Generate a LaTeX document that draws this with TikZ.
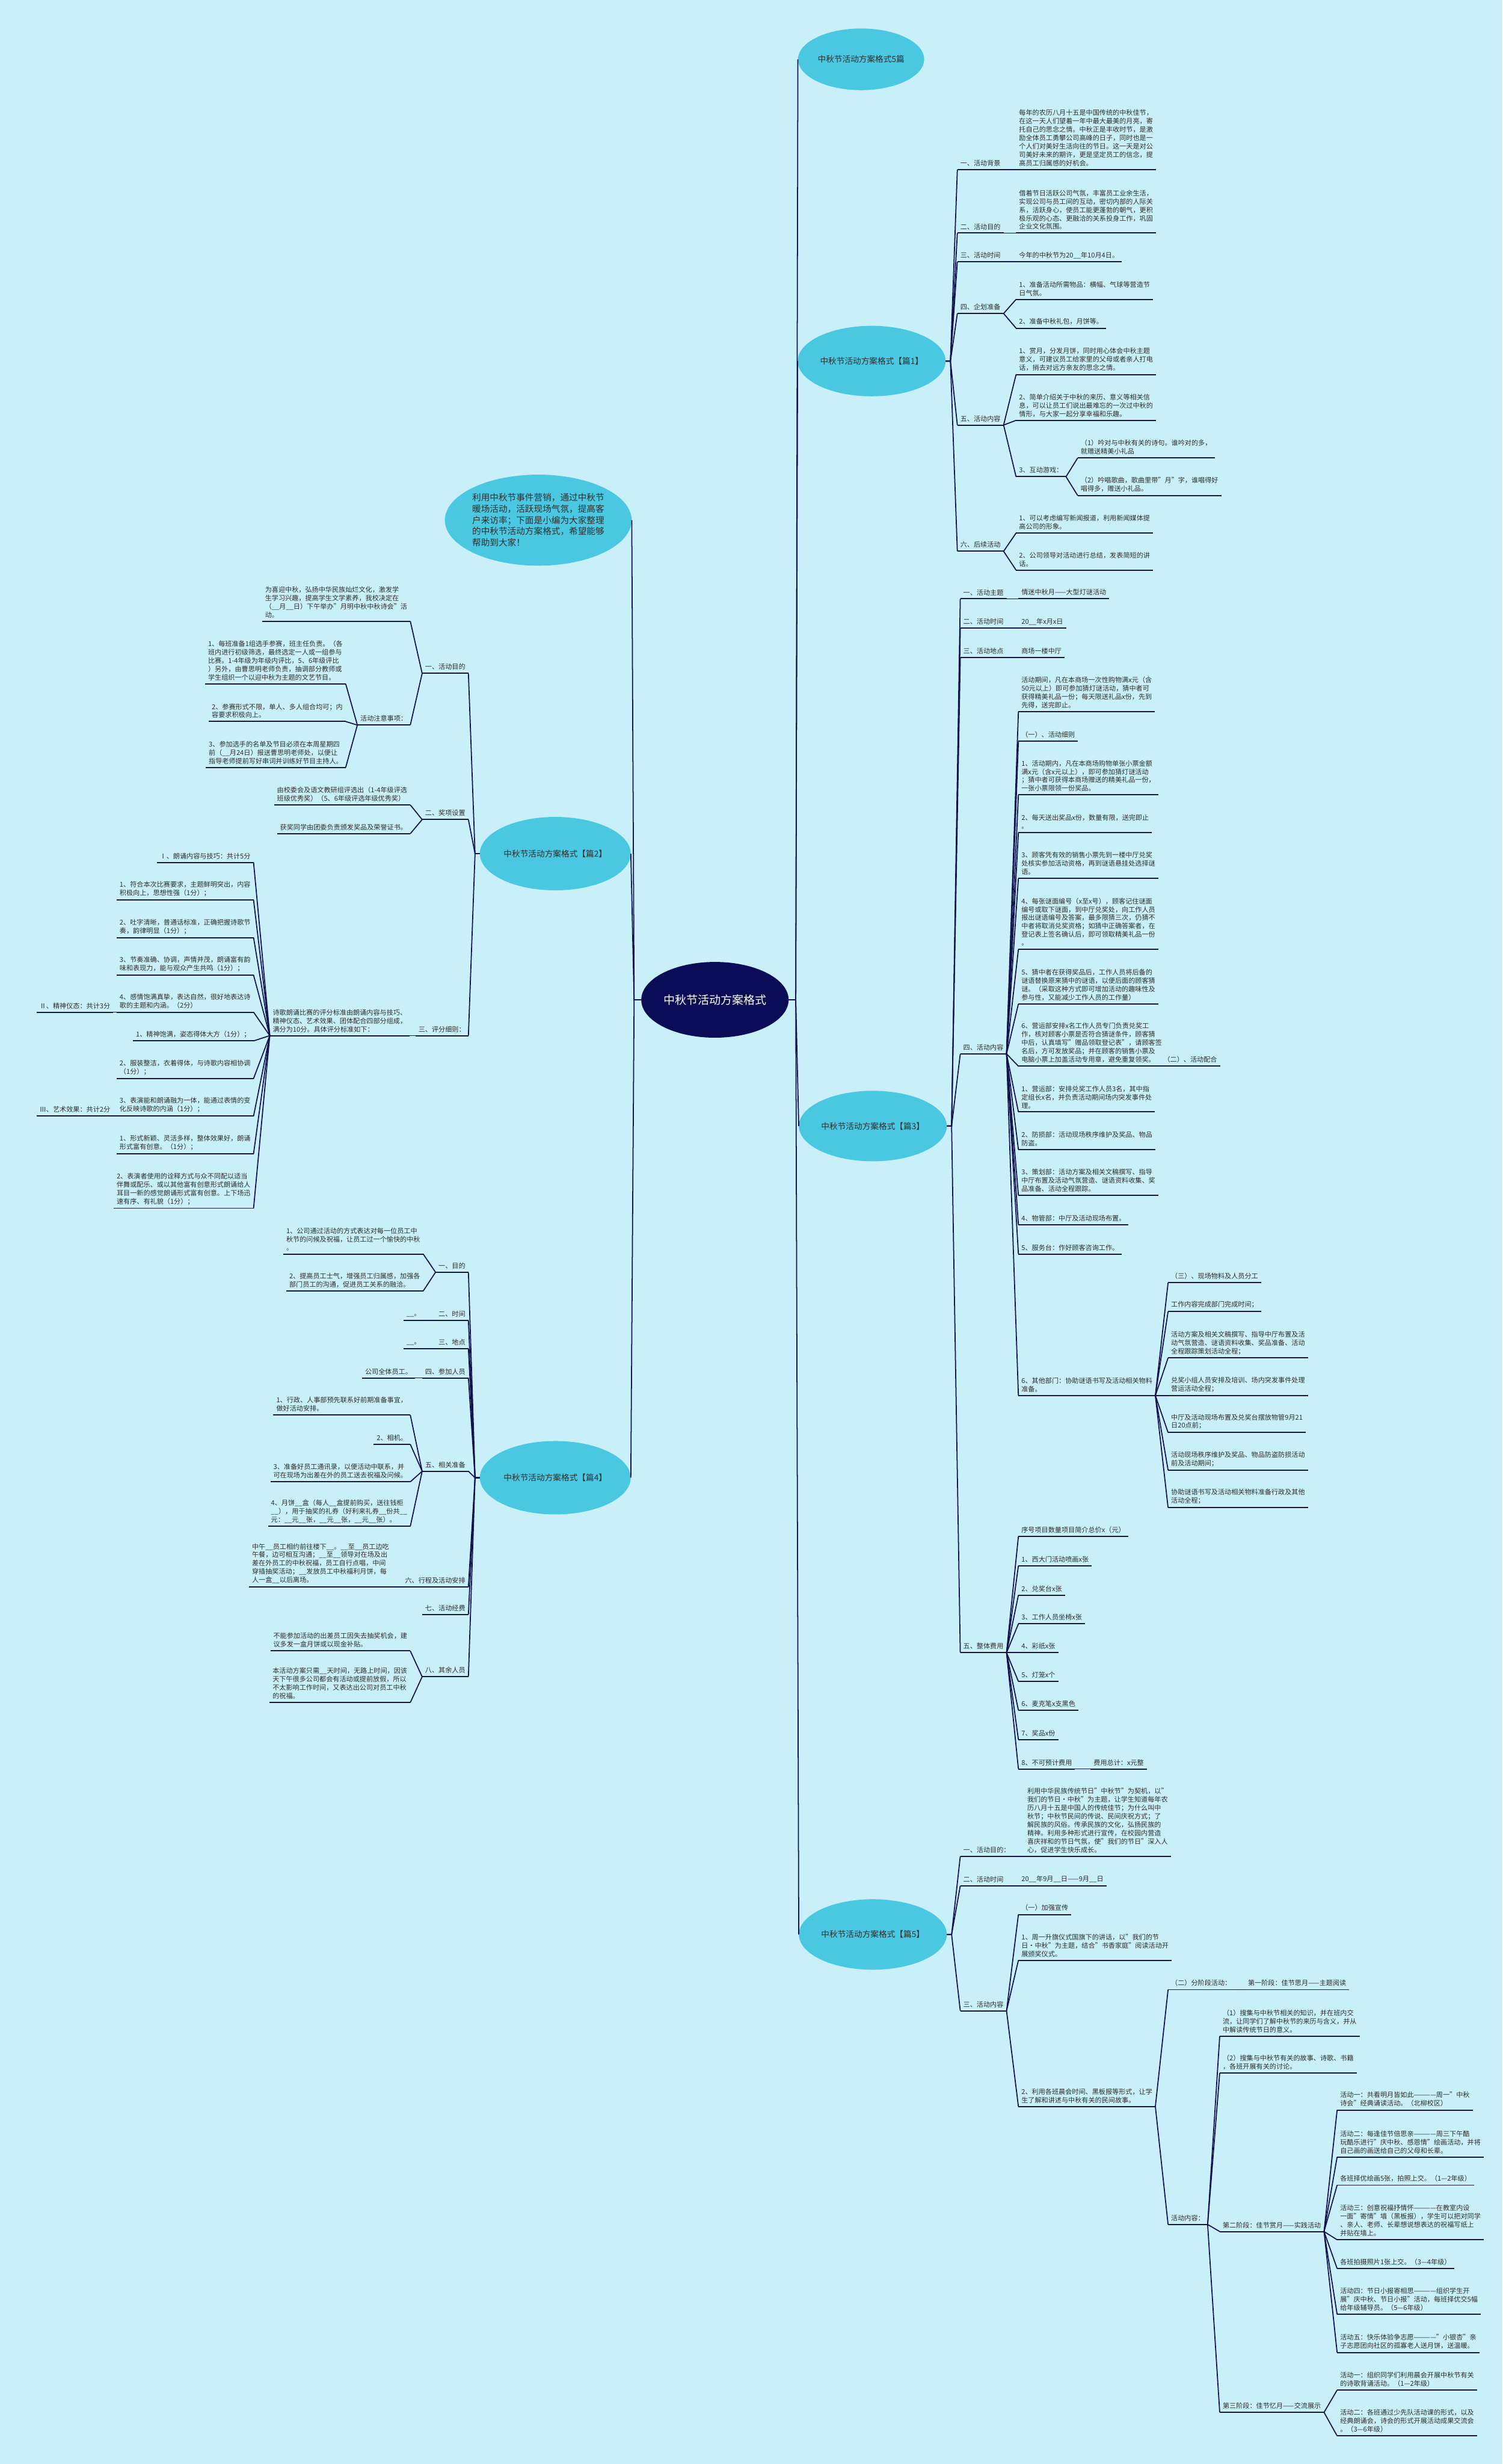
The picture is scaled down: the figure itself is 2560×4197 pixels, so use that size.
\documentclass[tikz,border=0pt]{standalone}
\usepackage{fontspec}
\setmainfont{Noto Sans CJK SC}
\usepackage{tikz}
\usetikzlibrary{shapes.geometric}
\definecolor{bgcol}{RGB}{201,240,248}
\definecolor{piancol}{RGB}{74,200,226}
\definecolor{rootcol}{RGB}{10,12,88}
\definecolor{linkcol}{RGB}{18,18,78}
\definecolor{ulcol}{RGB}{25,25,40}
\definecolor{txtcol}{RGB}{45,45,45}
\newcommand\leaffont{\fontsize{11.4}{14.3}\selectfont}

\begin{document}
\begin{tikzpicture}[x=1pt, y=-1pt,
    link/.style={draw=linkcol, line width=1.8},
    uline/.style={draw=ulcol, line width=2},
    leaf/.style={anchor=south west, align=left, inner xsep=5, inner ysep=5.5, font=\leaffont, text=txtcol,
      append after command={(\tikzlastnode.south west) edge[uline] (\tikzlastnode.south east)}},
    lleaf/.style={leaf, anchor=south east},
    pian/.style={ellipse, fill=piancol, minimum width=252, minimum height=120, inner sep=0,
      font=\fontsize{14}{18}\selectfont, text=txtcol},
    root/.style={ellipse, fill=rootcol, minimum width=251, minimum height=129, inner sep=0,
      font=\fontsize{19.5}{24}\selectfont, text=white}]

    \fill[bgcol] (0,0) rectangle (2560,4197);
    \useasboundingbox (0,0) rectangle (2560,4197);

    % Nodes
    \node[root] (root) at (1218,1703) {中秋节活动方案格式};
    \node[pian, minimum width=215, minimum height=105] (p5) at (1467,101) {中秋节活动方案格式5篇};
    \node[pian] (p1) at (1485,615) {中秋节活动方案格式【篇1】};
    \node[pian] (p3) at (1487,1918) {中秋节活动方案格式【篇3】};
    \node[pian] (p5b) at (1487,3295) {中秋节活动方案格式【篇5】};
    \node[pian, minimum width=316, minimum height=155, align=left, font=\fontsize{15}{19.2}\selectfont] (intro) at (917,886)
      {利用中秋节事件营销，通过中秋节\\暖场活动，活跃现场气氛，提高客\\户来访率；下面是小编为大家整理\\的中秋节活动方案格式，希望能够\\帮助到大家！};
    \node[pian, minimum width=257, minimum height=125] (p2) at (946,1454) {中秋节活动方案格式【篇2】};
    \node[pian, minimum width=257, minimum height=125] (p4) at (946,2517) {中秋节活动方案格式【篇4】};

    % pian 1
    \node[leaf] (a1) at (1631,289) {一、活动背景};
    \node[leaf] (a1t) at (1731,289) {每年的农历八月十五是中国传统的中秋佳节，\\在这一天人们望着一年中最大最美的月亮，寄\\托自己的思念之情。中秋正是丰收时节，是激\\励全体员工勇攀公司高峰的日子，同时也是一\\个人们对美好生活向往的节日。这一天是对公\\司美好未来的期许，更是坚定员工的信念，提\\高员工归属感的好机会。};
    \node[leaf] (a2) at (1631,397) {二、活动目的};
    \node[leaf] (a2t) at (1731,397) {借着节日活跃公司气氛，丰富员工业余生活，\\实现公司与员工间的互动，密切内部的人际关\\系，活跃身心，使员工能更蓬勃的朝气，更积\\极乐观的心态、更融洽的关系投身工作，巩固\\企业文化氛围。};
    \node[leaf] (a3) at (1631,446) {三、活动时间};
    \node[leaf] (a3t) at (1731,446) {今年的中秋节为20\_\_年10月4日。};
    \node[leaf] (a4) at (1631,534) {四、企划准备};
    \node[leaf] (a4a) at (1731,510) {1、准备活动所需物品：横幅、气球等营造节\\日气氛。};
    \node[leaf] (a4b) at (1731,559) {2、准备中秋礼包，月饼等。};
    \node[leaf] (a5) at (1631,724) {五、活动内容};
    \node[leaf] (a5a) at (1731,638) {1、赏月，分发月饼，同时用心体会中秋主题\\意义，可建议员工给家里的父母或者亲人打电\\话，捎去对远方亲友的思念之情。};
    \node[leaf] (a5b) at (1731,716) {2、简单介绍关于中秋的来历、意义等相关信\\息，可以让员工们说出最难忘的一次过中秋的\\情形，与大家一起分享幸福和乐趣。};
    \node[leaf] (a5c) at (1731,812) {3、互动游戏：};
    \node[leaf] (a5c1) at (1836,780) {（1）吟对与中秋有关的诗句。谁吟对的多，\\就赠送精美小礼品};
    \node[leaf] (a5c2) at (1836,844) {（2）吟唱歌曲，歌曲里带"月"字，谁唱得好\\唱得多，赠送小礼品。};
    \node[leaf] (a6) at (1631,939) {六、后续活动};
    \node[leaf] (a6a) at (1731,908) {1、可以考虑编写新闻报道，利用新闻媒体提\\高公司的形象。};
    \node[leaf] (a6b) at (1731,971) {2、公司领导对活动进行总结，发表简短的讲\\话。};

    % pian 3
    \node[leaf] (b1) at (1636,1020) {一、活动主题};
    \node[leaf] (b1t) at (1735,1020) {情迷中秋月——大型灯谜活动};
    \node[leaf] (b2) at (1636,1070) {二、活动时间};
    \node[leaf] (b2t) at (1735,1070) {20\_\_年x月x日};
    \node[leaf] (b3) at (1636,1120) {三、活动地点};
    \node[leaf] (b3t) at (1735,1120) {商场一楼中厅};
    \node[leaf] (b4) at (1636,1795) {四、活动内容};
    \node[leaf] (b4a) at (1735,1212) {活动期间，凡在本商场一次性购物满x元（含\\50元以上）即可参加猜灯谜活动，猜中者可\\获得精美礼品一份；每天限送礼品x份，先到\\先得，送完即止。};
    \node[leaf] (b4b) at (1735,1262) {（一）、活动细则};
    \node[leaf] (b4c) at (1735,1354) {1、活动期内，凡在本商场购物单张小票金额\\满x元（含x元以上），即可参加猜灯谜活动\\；猜中者可获得本商场赠送的精美礼品一份，\\一张小票限领一份奖品。};
    \node[leaf] (b4d) at (1735,1418) {2、每天送出奖品x份，数量有限，送完即止\\。};
    \node[leaf] (b4e) at (1735,1496) {3、顾客凭有效的销售小票先到一楼中厅兑奖\\处核实参加活动资格，再到谜语悬挂处选择谜\\语。};
    \node[leaf] (b4f) at (1735,1617) {4、每张谜面编号（x至x号），顾客记住谜面\\编号或取下谜面，到中厅兑奖处，向工作人员\\报出谜语编号及答案，最多限猜三次，仍猜不\\中者将取消兑奖资格；如猜中正确答案者，在\\登记表上签名确认后，即可领取精美礼品一份\\。};
    \node[leaf] (b4g) at (1735,1710) {5、猜中者在获得奖品后，工作人员将后备的\\谜语替换原来猜中的谜语，以便后面的顾客猜\\谜。（采取这种方式即可增加活动的趣味性及\\参与性，又能减少工作人员的工作量）};
    \node[leaf] (b4h) at (1735,1816) {6、营运部安排x名工作人员专门负责兑奖工\\作，核对顾客小票是否符合猜谜条件，顾客猜\\中后，认真填写"赠品领取登记表"，请顾客签\\名后，方可发放奖品；并在顾客的销售小票及\\电脑小票上加盖活动专用章，避免重复领奖。};
    \node[leaf] (b4h1) at (1977,1816) {（二）、活动配合};
    \node[leaf] (b4i) at (1735,1894) {1、营运部：安排兑奖工作人员3名，其中指\\定组长x名，并负责活动期间场内突发事件处\\理。};
    \node[leaf] (b4j) at (1735,1958) {2、防损部：活动现场秩序维护及奖品、物品\\防盗。};
    \node[leaf] (b4k) at (1735,2036) {3、策划部：活动方案及相关文稿撰写、指导\\中厅布置及活动气氛营造、谜语资料收集、奖\\品准备、活动全程跟踪。};
    \node[leaf] (b4l) at (1735,2086) {4、物管部：中厅及活动现场布置。};
    \node[leaf] (b4m) at (1735,2136) {5、服务台：作好顾客咨询工作。};
    \node[leaf] (b4n) at (1735,2377) {6、其他部门：协助谜语书写及活动相关物料\\准备。};
    \node[leaf] (b4n1) at (1990,2185) {（三）、现场物料及人员分工};
    \node[leaf] (b4n2) at (1990,2234) {工作内容完成部门完成时间；};
    \node[leaf] (b4n3) at (1990,2313) {活动方案及相关文稿撰写、指导中厅布置及活\\动气氛营造、谜语资料收集、奖品准备、活动\\全程跟踪策划活动全程；};
    \node[leaf] (b4n4) at (1990,2377) {兑奖小组人员安排及培训、场内突发事件处理\\营运活动全程；};
    \node[leaf] (b4n5) at (1990,2440) {中厅及活动现场布置及兑奖台摆放物管9月21\\日20点前；};
    \node[leaf] (b4n6) at (1990,2504) {活动现场秩序维护及奖品、物品防盗防损活动\\前及活动期间；};
    \node[leaf] (b4n7) at (1990,2568) {协助谜语书写及活动相关物料准备行政及其他\\活动全程；};
    \node[leaf] (b5) at (1636,2815) {五、整体费用};
    \node[leaf] (b5a) at (1735,2617) {序号项目数量项目简介总价x（元）};
    \node[leaf] (b5b) at (1735,2667) {1、西大门活动喷画x张};
    \node[leaf] (b5c) at (1735,2717) {2、兑奖台x张};
    \node[leaf] (b5d) at (1735,2766) {3、工作人员坐椅x张};
    \node[leaf] (b5e) at (1735,2815) {4、彩纸x张};
    \node[leaf] (b5f) at (1735,2864) {5、灯笼x个};
    \node[leaf] (b5g) at (1735,2913) {6、麦克笔x支黑色};
    \node[leaf] (b5h) at (1735,2963) {7、奖品x份};
    \node[leaf] (b5i) at (1735,3013) {8、不可预计费用};
    \node[leaf] (b5i1) at (1858,3013) {费用总计：x元整};

    % pian 5
    \node[leaf] (c1) at (1636,3162) {一、活动目的：};
    \node[leaf] (c1t) at (1745,3162) {利用中华民族传统节日"中秋节"为契机，以"\\我们的节日·中秋"为主题，让学生知道每年农\\历八月十五是中国人的传统佳节；为什么叫中\\秋节；中秋节民间的传说、民间庆祝方式；了\\解民族的风俗。传承民族的文化，弘扬民族的\\精神。利用多种形式进行宣传，在校园内营造\\喜庆祥和的节日气氛，使"我们的节日"深入人\\心，促进学生快乐成长。};
    \node[leaf] (c2) at (1636,3212) {二、活动时间};
    \node[leaf] (c2t) at (1735,3212) {20\_\_年9月\_\_日——9月\_\_日};
    \node[leaf] (c3) at (1636,3425) {三、活动内容};
    \node[leaf] (c3a) at (1735,3261) {（一）加强宣传};
    \node[leaf] (c3b) at (1735,3339) {1、周一升旗仪式国旗下的讲话，以"我们的节\\日·中秋"为主题，结合"书香家庭"阅读活动开\\展颁奖仪式。};
    \node[leaf] (c3c) at (1735,3588) {2、利用各班晨会时间、黑板报等形式，让学\\生了解和讲述与中秋有关的民间故事。};
    \node[leaf] (c3c1) at (1990,3389) {（二）分阶段活动：};
    \node[leaf] (c3c1a) at (2121,3389) {第一阶段：佳节思月——主题阅读};
    \node[leaf] (c3c2) at (1990,3789) {活动内容：};
    \node[leaf] (d1) at (2078,3468) {（1）搜集与中秋节相关的知识，并在班内交\\流，让同学们了解中秋节的来历与含义，并从\\中解读传统节日的意义。};
    \node[leaf] (d2) at (2078,3531) {（2）搜集与中秋节有关的故事、诗歌、书籍\\，各班开展有关的讨论。};
    \node[leaf] (d3) at (2078,3801) {第二阶段：佳节赏月——实践活动};
    \node[leaf] (d4) at (2078,4109) {第三阶段：佳节忆月——交流展示};
    \node[leaf] (e1) at (2278,3594) {活动一：共看明月皆如此————周一"中秋\\诗会"经典诵读活动。（北柳校区）};
    \node[leaf] (e2) at (2278,3674) {活动二：每逢佳节倍思亲————周三下午酷\\玩酷乐进行"庆中秋、感恩情"绘画活动，并将\\自己画的画送给自己的父母和长辈。};
    \node[leaf] (e3) at (2278,3722) {各班择优绘画5张，拍照上交。（1—2年级）};
    \node[leaf] (e4) at (2278,3815) {活动三：创意祝福抒情怀————在教室内设\\一面"寄情"墙（黑板报），学生可以把对同学\\、亲人、老师、长辈想说想表达的祝福写纸上\\并贴在墙上。};
    \node[leaf] (e5) at (2278,3864) {各班拍摄照片1张上交。（3—4年级）};
    \node[leaf] (e6) at (2278,3942) {活动四：节日小报寄相思————组织学生开\\展"庆中秋、节日小报"活动，每班择优交5幅\\给年级辅导员。（5—6年级）};
    \node[leaf] (e7) at (2278,4007) {活动五：快乐体验争志愿————"小银杏"亲\\子志愿团向社区的孤寡老人送月饼，送温暖。};
    \node[leaf] (f1) at (2278,4071) {活动一：组织同学们利用晨会开展中秋节有关\\的诗歌背诵活动。（1—2年级）};
    \node[leaf] (f2) at (2278,4149) {活动二：各班通过少先队活动课的形式，以及\\经典朗诵会，诗会的形式开展活动成果交流会\\。（3—6年级）};

    % pian 2
    \node[lleaf] (g1) at (798,1147) {一、活动目的};
    \node[lleaf] (g1a) at (699,1058) {为喜迎中秋，弘扬中华民族灿烂文化，激发学\\生学习兴趣，提高学生文学素养，我校决定在\\（\_\_月\_\_日）下午举办"月明中秋中秋诗会"活\\动。};
    \node[lleaf] (g1b) at (699,1235) {活动注意事项：};
    \node[lleaf] (g1b1) at (589,1165) {1、每班准备1组选手参赛，班主任负责。（各\\班内进行初级筛选，最终选定一人或一组参与\\比赛。1-4年级为年级内评比，5、6年级评比\\）另外，由曹思明老师负责，抽调部分教师或\\学生组织一个以迎中秋为主题的文艺节目。};
    \node[lleaf] (g1b2) at (589,1229) {2、参赛形式不限，单人、多人组合均可；内\\容要求积极向上。};
    \node[lleaf] (g1b3) at (589,1307) {3、参加选手的名单及节目必须在本周星期四\\前（\_\_月24日）报送曹思明老师处，以便让\\指导老师提前写好串词并训练好节目主持人。};
    \node[lleaf] (g2) at (798,1396) {二、奖项设置};
    \node[lleaf] (g2a) at (699,1371) {由校委会及语文教研组评选出（1-4年级评选\\班级优秀奖）（5、6年级评选年级优秀奖）};
    \node[lleaf] (g2b) at (699,1420) {获奖同学由团委负责颁发奖品及荣誉证书。};
    \node[lleaf] (g3) at (798,1764) {三、评分细则：};
    \node[lleaf] (g3a) at (698,1764) {诗歌朗诵比赛的评分标准由朗诵内容与技巧、\\精神仪态、艺术效果、团体配合四部分组成，\\满分为10分。具体评分标准如下：};
    \node[lleaf] (h1) at (432,1469) {Ⅰ、朗诵内容与技巧：共计5分};
    \node[lleaf] (h2) at (432,1533) {1、符合本次比赛要求，主题鲜明突出，内容\\积极向上，思想性强（1分）；};
    \node[lleaf] (h3) at (432,1597) {2、吐字清晰，普通话标准，正确把握诗歌节\\奏，韵律明显（1分）；};
    \node[lleaf] (h4) at (432,1661) {3、节奏准确、协调，声情并茂，朗诵富有韵\\味和表现力，能与观众产生共鸣（1分）；};
    \node[lleaf] (h5) at (432,1724) {4、感情饱满真挚，表达自然，很好地表达诗\\歌的主题和内涵。（2分）};
    \node[lleaf] (h5a) at (193,1724) {Ⅱ、精神仪态：共计3分};
    \node[lleaf] (h6) at (432,1773) {1、精神饱满，姿态得体大方（1分）；};
    \node[lleaf] (h7) at (432,1837) {2、服装整洁，衣着得体，与诗歌内容相协调\\（1分）；};
    \node[lleaf] (h8) at (432,1901) {3、表演能和朗诵融为一体，能通过表情的变\\化反映诗歌的内涵（1分）；};
    \node[lleaf] (h8a) at (193,1901) {Ⅲ、艺术效果：共计2分};
    \node[lleaf] (h9) at (432,1965) {1、形式新颖、灵活多样，整体效果好，朗诵\\形式富有创意。（1分）；};
    \node[lleaf] (h10) at (432,2058) {2、表演者使用的诠释方式与众不同配以适当\\伴舞或配乐、或以其他富有创意形式朗诵给人\\耳目一新的感觉朗诵形式富有创意。上下场迅\\速有序、有礼貌（1分）；};

    % pian 4
    \node[lleaf] (k1) at (798,2167) {一、目的};
    \node[lleaf] (k1a) at (721,2136) {1、公司通过活动的方式表达对每一位员工中\\秋节的问候及祝福，让员工过一个愉快的中秋\\。};
    \node[lleaf] (k1b) at (721,2199) {2、提高员工士气，增强员工归属感，加强各\\部门员工的沟通，促进员工关系的融洽。};
    \node[lleaf] (k2) at (798,2249) {二、时间};
    \node[lleaf] (k2a) at (722,2249) {\_\_。};
    \node[lleaf] (k3) at (798,2297) {三、地点};
    \node[lleaf] (k3a) at (722,2297) {\_\_。};
    \node[lleaf] (k4) at (798,2347) {四、参加人员};
    \node[lleaf] (k4a) at (707,2347) {公司全体员工。};
    \node[lleaf] (k5) at (798,2506) {五、相关准备};
    \node[lleaf] (k5a) at (699,2410) {1、行政、人事部预先联系好前期准备事宜，\\做好活动安排。};
    \node[lleaf] (k5b) at (699,2460) {2、相机。};
    \node[lleaf] (k5c) at (699,2524) {3、准备好员工通讯录，以便活动中联系，并\\可在现场为出差在外的员工送去祝福及问候。};
    \node[lleaf] (k5d) at (699,2600) {4、月饼\_\_盒（每人\_\_盒提前购买，送往钱柜\\\_\_），用于抽奖的礼券（好利来礼券\_\_份共\_\_\\元：\_\_元\_\_张，\_\_元\_\_张，\_\_元\_\_张）。};
    \node[lleaf] (k6) at (798,2703) {六、行程及活动安排};
    \node[lleaf] (k6a) at (668,2703) {中午\_\_员工相约前往楼下\_\_。\_\_至\_\_员工边吃\\午餐，边可相互沟通；\_\_至\_\_领导对在场及出\\差在外员工的中秋祝福，员工自行点唱，中间\\穿插抽奖活动；\_\_发放员工中秋福利月饼，每\\人一盒\_\_以后离场。};
    \node[lleaf] (k7) at (798,2750) {七、活动经费};
    \node[lleaf] (k8) at (798,2856) {八、其余人员};
    \node[lleaf] (k8a) at (699,2812) {不能参加活动的出差员工因失去抽奖机会，建\\议多发一盒月饼或以现金补贴。};
    \node[lleaf] (k8b) at (699,2900) {本活动方案只需\_\_天时间，无路上时间，因该\\天下午很多公司都会有活动或提前放假，所以\\不太影响工作时间，又表达出公司对员工中秋\\的祝福。};

    % Edges
    \foreach \p in {p5,p1,p3,p5b}
      \draw[link] (root.east) -- ++(12,0) -- (\p.west);
    \foreach \p in {intro,p2,p4}
      \draw[link] (root.west) -- ++(-12,0) -- (\p.east);

    \foreach \c in {a1,a2,a3,a4,a5,a6}
      \draw[link] (p1.east) -- ++(8,0) -- (\c.south west);
    \foreach \c in {b1,b2,b3,b4,b5}
      \draw[link] (p3.east) -- ++(8,0) -- (\c.south west);
    \foreach \c in {c1,c2,c3}
      \draw[link] (p5b.east) -- ++(8,0) -- (\c.south west);
    \foreach \c in {g1,g2,g3}
      \draw[link] (p2.west) -- ++(-8,0) -- (\c.south east);
    \foreach \c in {k1,k2,k3,k4,k5,k6,k7,k8}
      \draw[link] (p4.west) -- ++(-8,0) -- (\c.south east);

    \foreach \p/\c in {a1/a1t, a2/a2t, a3/a3t, a4/a4a, a4/a4b, a5/a5a, a5/a5b, a5/a5c,
        a5c/a5c1, a5c/a5c2, a6/a6a, a6/a6b,
        b1/b1t, b2/b2t, b3/b3t, b4/b4a, b4/b4b, b4/b4c, b4/b4d, b4/b4e, b4/b4f, b4/b4g,
        b4/b4h, b4/b4i, b4/b4j, b4/b4k, b4/b4l, b4/b4m, b4/b4n, b4h/b4h1,
        b4n/b4n1, b4n/b4n2, b4n/b4n3, b4n/b4n4, b4n/b4n5, b4n/b4n6, b4n/b4n7,
        b5/b5a, b5/b5b, b5/b5c, b5/b5d, b5/b5e, b5/b5f, b5/b5g, b5/b5h, b5/b5i, b5i/b5i1,
        c1/c1t, c2/c2t, c3/c3a, c3/c3b, c3/c3c, c3c/c3c1, c3c/c3c2, c3c1/c3c1a,
        c3c2/d1, c3c2/d2, c3c2/d3, c3c2/d4,
        d3/e1, d3/e2, d3/e3, d3/e4, d3/e5, d3/e6, d3/e7, d4/f1, d4/f2}
      \draw[link] (\p.south east) -- (\c.south west);

    \foreach \p/\c in {g1/g1a, g1/g1b, g1b/g1b1, g1b/g1b2, g1b/g1b3, g2/g2a, g2/g2b, g3/g3a,
        g3a/h1, g3a/h2, g3a/h3, g3a/h4, g3a/h5, g3a/h6, g3a/h7, g3a/h8, g3a/h9, g3a/h10,
        h5/h5a, h8/h8a,
        k1/k1a, k1/k1b, k2/k2a, k3/k3a, k4/k4a, k5/k5a, k5/k5b, k5/k5c, k5/k5d,
        k6/k6a, k8/k8a, k8/k8b}
      \draw[link] (\p.south west) -- (\c.south east);
\end{tikzpicture}
\end{document}
